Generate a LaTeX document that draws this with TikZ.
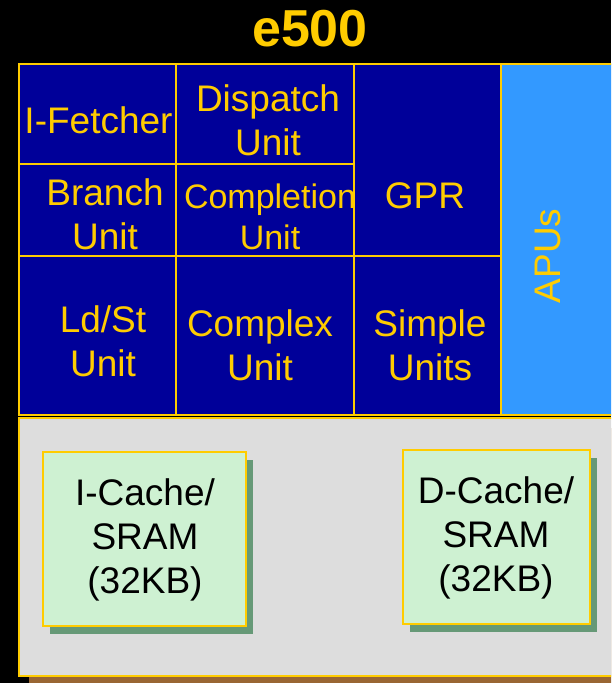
\documentclass[tikz,border=0pt]{standalone}
\usepackage{fontspec}
\setmainfont{Liberation Sans}
\usetikzlibrary{positioning, shadows}

\definecolor{eyellow}{HTML}{FFCC00}
\definecolor{eblue}{HTML}{000099}
\definecolor{apublue}{HTML}{3399FF}
\definecolor{memgray}{HTML}{DDDDDD}
\definecolor{cachegreen}{HTML}{CEF1D2}
\definecolor{cacheshadow}{HTML}{669977}
\definecolor{memshadow}{HTML}{996633}

\begin{document}
\begin{tikzpicture}[x=1pt, y=-1pt, node distance=0pt,
  every node/.style={inner sep=0pt, outer sep=0pt},
  unit/.style={rectangle, draw=eyellow, line width=1.2pt, fill=eblue},
  unittxt/.style={text=eyellow, align=center, font=\fontsize{37}{44}\selectfont},
  cache/.style={rectangle, draw=eyellow, line width=1.5pt, fill=cachegreen, minimum height=174,
    drop shadow={shadow xshift=7pt, shadow yshift=-8pt, fill=cacheshadow, opacity=1}},
  cachetxt/.style={text=black, align=center, font=\fontsize{37}{44}\selectfont}
]
\useasboundingbox (0,0) rectangle (611,683);
\fill[black] (0,0) rectangle (611,683);
\clip (0,0) rectangle (611,683);
% Titel
\node[text=eyellow, font=\bfseries\fontsize{52}{60}\selectfont] (title) at (310,28.5) {e500};
% Speicherbereich
\node[rectangle, draw=eyellow, line width=1.5pt, fill=memgray, minimum width=606, minimum height=258,
  drop shadow={shadow xshift=10pt, shadow yshift=-10pt, fill=memshadow, opacity=1}] (mem) at (322,547) {};
% Einheiten (Gitter)
\node[unit, minimum width=157, minimum height=100] (ifetch) at (97.5,114) {};
\node[unit, minimum width=157, minimum height=92, below=of ifetch] (branch) {};
\node[unit, minimum width=157, minimum height=159, below=of branch] (ldst) {};
\node[unit, minimum width=178, minimum height=100, right=of ifetch] (dispatch) {};
\node[unit, minimum width=178, minimum height=92, below=of dispatch] (complet) {};
\node[unit, minimum width=178, minimum height=159, below=of complet] (complex) {};
\node[unit, minimum width=147, minimum height=192, anchor=north west] (gpr) at (dispatch.north east) {};
\node[unit, minimum width=147, minimum height=159, below=of gpr] (simple) {};
\node[unit, fill=apublue, minimum width=120, minimum height=351, anchor=north west] (apus) at (gpr.north east) {};
% Beschriftungen
\node[unittxt] (ifetchtxt) at (98.5,120) {I-Fetcher};
\node[unittxt] (dispatchtxt) at (268,120) {Dispatch\\Unit};
\node[unittxt] (branchtxt) at (105,214.5) {Branch\\Unit};
\node[unittxt, font=\fontsize{34}{41}\selectfont] (complettxt) at (270,216.5) {Completion\\Unit};
\node[unittxt] (gprtxt) at (425,196) {GPR};
\node[unittxt] (ldsttxt) at (103,341) {Ld/St\\Unit};
\node[unittxt] (complextxt) at (260,345) {Complex\\Unit};
\node[unittxt] (simpletxt) at (430,345) {Simple\\Units};
\node[unittxt, rotate=90] (apustxt) at (548,256) {APUs};
% Caches
\node[cache, minimum width=203] (icache) at (144.5,539) {};
\node[cache, minimum width=187] (dcache) at (496.5,537) {};
\node[cachetxt] (icachetxt) at (145,539.5) {I-Cache/\\SRAM\\(32KB)};
\node[cachetxt] (dcachetxt) at (496,537.5) {D-Cache/\\SRAM\\(32KB)};
\end{tikzpicture}
\end{document}
